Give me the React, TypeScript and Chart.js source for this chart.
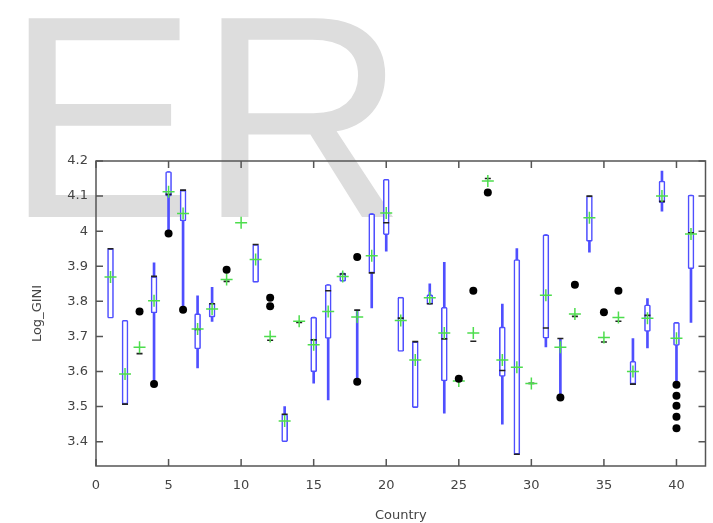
import React, { useEffect, useRef } from "react";
import { Chart, registerables } from "chart.js";

Chart.register(...registerables);

const COUNTRIES = Array.from({ length: 41 }, (_, i) => i + 1);

const Q1: (number | null)[] = [
  3.752, 3.507, null, 3.767, 4.100, 4.029, 3.664, 3.755, null, null,
  3.854, null, 3.400, null, 3.599, 3.694, 3.857, null, 3.881, 3.990,
  3.657, 3.497, 3.792, 3.573, null, null, null, 3.586, 3.364, null,
  3.695, null, null, 3.971, null, null, 3.564, 3.714, 4.081, 3.674,
  3.893,
];
const Q3: (number | null)[] = [
  3.950, 3.746, null, 3.871, 4.170, 4.117, 3.765, 3.795, null, null,
  3.962, null, 3.478, null, 3.755, 3.848, 3.881, null, 4.050, 4.148,
  3.812, 3.685, 3.819, 3.783, null, null, null, 3.727, 3.919, null,
  3.990, null, null, 4.100, null, null, 3.629, 3.790, 4.143, 3.740,
  4.103,
];
const MEDIAN: (number | null)[] = [
  3.950, 3.507, 3.651, 3.871, 4.105, 4.117, 3.720, 3.793, 3.857, null,
  3.962, 3.689, 3.478, 3.740, 3.690, 3.830, 3.878, 3.775, 3.881, 4.024,
  3.752, 3.685, 3.793, 3.693, null, 3.686, 4.150, 3.603, 3.364, 3.566,
  3.724, 3.694, 3.757, 4.100, 3.684, 3.743, 3.564, 3.760, 4.085, null,
  3.995,
];
const MEAN: number[] = [
  3.869, 3.593, 3.669, 3.802, 4.112, 4.050, 3.721, 3.778, 3.862, 4.024,
  3.919, 3.700, 3.459, 3.743, 3.676, 3.771, 3.871, 3.755, 3.930, 4.052,
  3.745, 3.633, 3.810, 3.710, 3.573, 3.710, 4.143, 3.633, 3.612, 3.566,
  3.817, 3.669, 3.764, 4.038, 3.697, 3.754, 3.600, 3.752, 4.100, 3.695,
  3.992,
];
const WHISKER_LO: (number | null)[] = [
  null, null, null, 3.564, 3.993, 3.776, 3.610, 3.743, null, null,
  null, null, null, null, 3.567, 3.519, null, 3.571, 3.781, 3.943,
  null, null, null, 3.481, null, null, null, 3.450, null, null,
  3.670, 3.526, null, 3.940, null, null, null, 3.667, 4.057, 3.562,
  3.740,
];
const WHISKER_HI: (number | null)[] = [
  null, null, null, 3.910, null, null, 3.816, 3.840, null, null,
  null, null, 3.500, null, null, null, null, null, null, null,
  null, null, 3.850, 3.911, null, null, null, 3.792, 3.950, null,
  null, null, null, null, null, null, 3.694, 3.808, 4.171, null,
  null,
];
const OUTLIER_COUNTRY = [3, 4, 5, 6, 9, 12, 12, 18, 18, 25, 26, 27, 32, 33, 35, 36, 40, 40, 40, 40, 40];
const OUTLIER_VALUE = [
  3.771, 3.564, 3.993, 3.776, 3.890, 3.810, 3.786, 3.926, 3.571, 3.579,
  3.830, 4.110, 3.526, 3.847, 3.769, 3.830, 3.562, 3.531, 3.502, 3.471, 3.438,
];

const X_TICKS = [0, 5, 10, 15, 20, 25, 30, 35, 40];
const Y_TICKS = [3.4, 3.5, 3.6, 3.7, 3.8, 3.9, 4.0, 4.1, 4.2];
const Y_TICK_LABELS = ["3.4", "3.5", "3.6", "3.7", "3.8", "3.9", "4", "4.1", "4.2"];

const BLUE = "#4f4fff";
const GREEN = "#4ddd4d";
const FRAME = "#555555";

const watermark = {
  id: "watermark",
  beforeDraw(chart: any) {
    const ctx = chart.ctx;
    ctx.save();
    ctx.fillStyle = "#ffffff";
    ctx.fillRect(0, 0, chart.width, chart.height);
    ctx.fillStyle = "#dddddd";
    ctx.font = "289px 'Liberation Sans', Arial, sans-serif";
    ctx.textBaseline = "alphabetic";
    ctx.textAlign = "left";
    ctx.fillText("ER", 5, 217);
    ctx.restore();
  },
};

const frame = {
  id: "frame",
  afterDatasetsDraw(chart: any) {
    const { ctx, chartArea: a, scales } = chart;
    ctx.save();
    ctx.strokeStyle = FRAME;
    ctx.lineWidth = 1.5;
    ctx.strokeRect(a.left, a.top, a.right - a.left, a.bottom - a.top);
    const t = 7;
    ctx.beginPath();
    X_TICKS.forEach((v) => {
      const px = scales.x.getPixelForValue(v);
      ctx.moveTo(px, a.bottom);
      ctx.lineTo(px, a.bottom - t);
      ctx.moveTo(px, a.top);
      ctx.lineTo(px, a.top + t);
    });
    Y_TICKS.forEach((v) => {
      const py = scales.y.getPixelForValue(v);
      ctx.moveTo(a.left, py);
      ctx.lineTo(a.left + t, py);
      ctx.moveTo(a.right, py);
      ctx.lineTo(a.right - t, py);
    });
    ctx.stroke();
    ctx.restore();
  },
};

export default function App() {
  const ref = useRef<HTMLCanvasElement | null>(null);

  useEffect(() => {
    if (!ref.current) return;
    document.body.style.margin = "0";
    Chart.defaults.font.family = "'DejaVu Sans', sans-serif";

    const whiskers: any[] = [];
    const boxes: any[] = [];
    const medians: any[] = [];
    COUNTRIES.forEach((c, i) => {
      if (WHISKER_LO[i] !== null || WHISKER_HI[i] !== null) {
        const lo = WHISKER_LO[i] ?? Q1[i] ?? MEDIAN[i];
        const hi = WHISKER_HI[i] ?? Q3[i] ?? MEDIAN[i];
        whiskers.push({ x: c, y: [lo, hi] });
      }
      if (Q1[i] !== null && Q3[i] !== null) boxes.push({ x: c, y: [Q1[i], Q3[i]] });
      if (MEDIAN[i] !== null) medians.push({ x: c, y: MEDIAN[i] });
    });
    const means = COUNTRIES.map((c, i) => ({ x: c, y: MEAN[i] }));
    const outliers = OUTLIER_COUNTRY.map((c, i) => ({ x: c, y: OUTLIER_VALUE[i] }));

    const chart = new Chart(ref.current, {
      type: "bar",
      data: {
        datasets: [
          {
            type: "bar",
            data: whiskers,
            backgroundColor: BLUE,
            borderWidth: 0,
            barThickness: 2,
            grouped: false,
            order: 5,
          } as any,
          {
            type: "bar",
            data: boxes,
            backgroundColor: "#ffffff",
            borderColor: BLUE,
            borderWidth: 1.6,
            borderSkipped: false,
            borderRadius: 1.5,
            barThickness: 6,
            grouped: false,
            order: 4,
          } as any,
          {
            type: "scatter",
            data: medians,
            pointStyle: "line",
            pointRadius: 3,
            borderColor: "#222222",
            borderWidth: 1.6,
            order: 3,
          } as any,
          {
            type: "scatter",
            data: means,
            pointStyle: "cross",
            pointRadius: 6,
            borderColor: GREEN,
            borderWidth: 1.5,
            order: 2,
          } as any,
          {
            type: "scatter",
            data: outliers,
            pointStyle: "circle",
            pointRadius: 4,
            backgroundColor: "#000000",
            borderWidth: 0,
            order: 1,
          } as any,
        ],
      },
      options: {
        animation: false,
        responsive: false,
        devicePixelRatio: 1,
        layout: { padding: { top: 161, right: 6, left: 0, bottom: 0 } },
        plugins: { legend: { display: false }, tooltip: { enabled: false } },
        scales: {
          x: {
            type: "linear",
            min: 0,
            max: 42,
            offset: false,
            grid: { display: false, drawTicks: false, offset: false },
            border: { display: false },
            afterBuildTicks: (s: any) => {
              s.ticks = X_TICKS.map((v) => ({ value: v }));
            },
            afterFit: (s: any) => {
              s.height = 57;
            },
            ticks: {
              color: "#444444",
              font: { size: 13 },
              padding: 12,
              maxRotation: 0,
              callback: (v: any) => String(v),
            },
            title: {
              display: true,
              text: "Country",
              color: "#444444",
              font: { size: 13 },
              padding: { top: 0, bottom: 0 },
            },
          },
          y: {
            type: "linear",
            min: 3.3306,
            max: 4.2,
            grid: { display: false, drawTicks: false },
            border: { display: false },
            afterBuildTicks: (s: any) => {
              s.ticks = Y_TICKS.map((v) => ({ value: v }));
            },
            afterFit: (s: any) => {
              s.width = 96;
            },
            ticks: {
              color: "#444444",
              font: { size: 13 },
              padding: 8,
              callback: (v: any) => {
                const idx = Y_TICKS.findIndex((t) => Math.abs(t - v) < 1e-6);
                return idx >= 0 ? Y_TICK_LABELS[idx] : "";
              },
            },
            title: {
              display: true,
              text: "Log_GINI",
              color: "#444444",
              font: { size: 13 },
              padding: { top: 30, bottom: 0 },
            },
          },
        },
      } as any,
      plugins: [watermark, frame],
    });
    return () => chart.destroy();
  }, []);

  return (
    <div style={{ position: "fixed", left: 0, top: 0, width: 713, height: 523 }}>
      <canvas ref={ref} width={713} height={523} style={{ width: 713, height: 523, display: "block" }} />
    </div>
  );
}
